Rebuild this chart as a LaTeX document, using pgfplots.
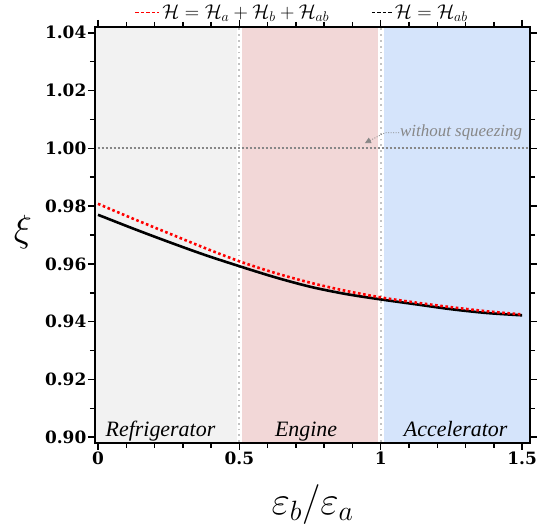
\RequirePackage{fix-cm}
\documentclass[border=0pt]{standalone}
\usepackage{fontspec}
\setmainfont{DejaVu Serif}
\newfontfamily\labfont{Liberation Serif}
\usepackage{pgfplots}
\pgfplotsset{compat=1.18}
\usetikzlibrary{arrows.meta}
\definecolor{regA}{RGB}{242,242,242}
\definecolor{regB}{RGB}{242,215,215}
\definecolor{regC}{RGB}{213,228,251}
\definecolor{sepgray}{RGB}{195,195,195}
\definecolor{annot}{RGB}{135,135,135}
\begin{document}
\begin{tikzpicture}
\begin{axis}[
    scale only axis,
    width=435bp, height=416bp,
    xmin=-0.0106, xmax=1.528,
    ymin=0.898, ymax=1.042,
    xtick={0,0.5,1,1.5},
    minor x tick num=4,
    ytick={0.90,0.92,...,1.041},
    minor y tick num=1,
    tick align=outside,
    major tick length=7bp, minor tick length=5bp,
    every tick/.style={black, line width=1.5bp},
    axis line style={line width=2.2bp},
    axis on top,
    /pgf/number format/assume math mode=true,
    ticklabel style={font=\fontsize{17}{17}\selectfont\bfseries, inner sep=1.5bp},
    yticklabel style={/pgf/number format/fixed, /pgf/number format/fixed zerofill, /pgf/number format/precision=2},
    xticklabel style={/pgf/number format/fixed},
    xlabel={$\varepsilon_b/\varepsilon_a$},
    ylabel={$\xi$},
    xlabel style={font=\fontsize{40}{40}\selectfont, at={(axis description cs:0.5,-0.147)}, anchor=center},
    ylabel style={font=\fontsize{38}{38}\selectfont, rotate=-90, at={(axis description cs:-0.1655,0.507)}, anchor=center},
    legend columns=2,
    legend style={at={(axis description cs:0.476,1.035)}, anchor=center, draw=none, fill=none,
        font=\fontsize{20}{20}\selectfont, inner sep=0pt,
        /tikz/every even column/.append style={column sep=40bp}},
    legend cell align=left,
]
% regions
\addplot[fill=regA, draw=none, forget plot] coordinates {(-0.1,0.8) (0.49,0.8) (0.49,1.1) (-0.1,1.1)} -- cycle;
\addplot[fill=regB, draw=none, forget plot] coordinates {(0.51,0.8) (0.99,0.8) (0.99,1.1) (0.51,1.1)} -- cycle;
\addplot[fill=regC, draw=none, forget plot] coordinates {(1.01,0.8) (1.6,0.8) (1.6,1.1) (1.01,1.1)} -- cycle;
\addplot[sepgray, line width=1.8bp, dash pattern=on 1.8bp off 4bp, forget plot] coordinates {(0.5,0.8) (0.5,1.1)};
\addplot[sepgray, line width=1.8bp, dash pattern=on 1.8bp off 4bp, forget plot] coordinates {(1,0.8) (1,1.1)};
\addplot[annot, line width=2bp, dash pattern=on 2bp off 2bp, forget plot] coordinates {(-0.1,1.0) (1.6,1.0)};
% legend entries
\addlegendimage{legend image code/.code={\draw[red, line width=1.8bp, dash pattern=on 3.5bp off 2bp] (0bp,0bp) -- (24bp,0bp);}}
\addlegendentry{$\mathcal{H}=\mathcal{H}_a+\mathcal{H}_b+\mathcal{H}_{ab}$}
\addlegendimage{legend image code/.code={\draw[black, line width=1.8bp, dash pattern=on 3.5bp off 2bp] (0bp,0bp) -- (20bp,0bp);}}
\addlegendentry{$\mathcal{H}=\mathcal{H}_{ab}$}
% curves
\addplot[black, line width=2.6bp, smooth, forget plot] coordinates {
    (0,0.9770) (0.125,0.9722) (0.25,0.9676) (0.375,0.9632) (0.5,0.9592) (0.625,0.9554)
    (0.75,0.9521) (0.875,0.9496) (1,0.9477) (1.125,0.9460) (1.25,0.9443) (1.375,0.9430) (1.5,0.9422)
};
\addplot[red, line width=2.6bp, dash pattern=on 2.6bp off 2.6bp, smooth, forget plot] coordinates {
    (0,0.9808) (0.125,0.9756) (0.25,0.9706) (0.375,0.9656) (0.5,0.9609) (0.625,0.9569)
    (0.75,0.9535) (0.875,0.9507) (1,0.9484) (1.125,0.9466) (1.25,0.9450) (1.375,0.9436) (1.5,0.9425)
};
% annotation
\draw[annot, line width=0.8bp, dash pattern=on 1bp off 1.5bp, -{Triangle[length=6bp,width=6bp]}]
    (axis cs:1.065,1.0054) -- (axis cs:1.015,1.0054) -- (axis cs:0.944,1.0018);
\node[annot, anchor=west, inner sep=0pt, font=\labfont\itshape\fontsize{17}{17}\selectfont] at (axis cs:1.068,1.0054) {without squeezing};
\node[anchor=base, font=\labfont\itshape\fontsize{22}{22}\selectfont] at (axis cs:0.221,0.9004) {Refrigerator};
\node[anchor=base, font=\labfont\itshape\fontsize{22}{22}\selectfont] at (axis cs:0.736,0.9004) {Engine};
\node[anchor=base, font=\labfont\itshape\fontsize{22}{22}\selectfont] at (axis cs:1.265,0.9004) {Accelerator};
\end{axis}
\pgfresetboundingbox
\path ([shift={(-95bp,-84bp)}]current axis.south west) rectangle ([shift={(7bp,27bp)}]current axis.north east);
\end{tikzpicture}
\end{document}
